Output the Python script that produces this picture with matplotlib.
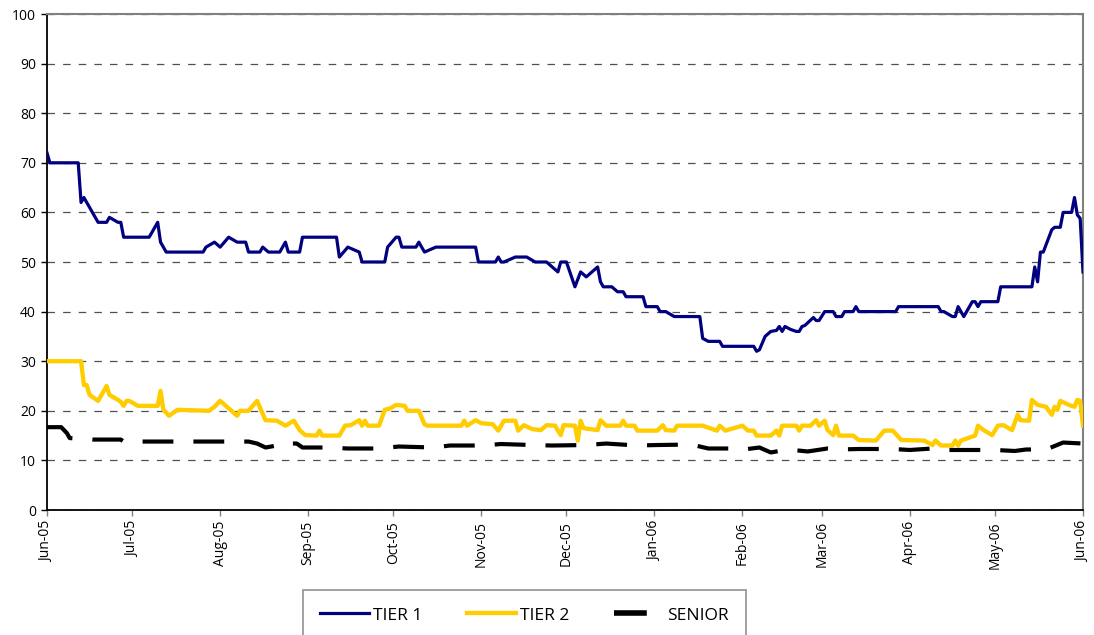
import numpy as np
import matplotlib
matplotlib.use('Agg')
from matplotlib import pyplot as plt
from matplotlib.lines import Line2D
import matplotlib.dates as mdates


plt.rcParams['font.family'] = ['Open Sans', 'DejaVu Sans']

start_date = np.datetime64('2005-06-01')
end_date = np.datetime64('2006-06-01')

# (days since 1 Jun 2005, spread)
tier1 = [(0, 72), (1, 70), (11, 70), (12, 62), (13, 63), (18, 58), (21, 58), (22, 59),
         (25, 58), (26, 58), (27, 55), (36, 55), (39, 58), (40, 54), (42, 52), (55, 52),
         (56, 53), (59, 54), (61, 53), (64, 55), (67, 54), (70, 54), (71, 52), (75, 52),
         (76, 53), (78, 52), (82, 52), (84, 54), (85, 52), (89, 52), (90, 55), (102, 55),
         (103, 51), (106, 53), (110, 52), (111, 50), (119, 50), (120, 53), (123, 55), (124, 55),
         (125, 53), (130, 53), (131, 54), (133, 52), (137, 53), (151, 53), (152, 50), (158, 50),
         (159, 51), (160, 50), (161, 50), (165, 51), (169, 51), (172, 50), (176, 50), (180, 48),
         (181, 50), (183, 50), (186, 45), (188, 48), (190, 47), (193, 48.5), (194, 49), (195, 46),
         (196, 45), (199, 45), (201, 44), (203, 44), (204, 43), (210, 43), (211, 41), (215, 41),
         (216, 40), (218, 40), (221, 39), (230, 39), (231, 34.6), (233, 34), (237, 34), (238, 33),
         (249, 33), (250, 32), (251, 32.3), (253, 35), (255, 36), (257, 36.2), (258, 37), (259, 36),
         (260, 37), (262, 36.4), (264, 36), (265, 36), (266, 37), (267, 37.2), (270, 38.8),
         (271, 38.2), (272, 38.2), (274, 40), (277, 40), (278, 39), (280, 39), (281, 40), (284, 40),
         (285, 41), (286, 40), (299, 40), (300, 41), (314, 41), (315, 40), (316, 40), (319, 39),
         (320, 39), (321, 41), (323, 39), (326, 42), (327, 42), (328, 41), (329, 42), (335, 42),
         (336, 45), (347, 45), (348, 49), (349, 46), (350, 52), (351, 52), (354, 56.5), (355, 57),
         (357, 57), (358, 60), (361, 60), (362, 63), (363, 59.5), (364, 58.8), (365, 48)]

tier2 = [(0, 30), (12, 30), (13, 25.2), (14, 25.2), (15, 23.2), (18, 22), (21, 25), (22, 23.2),
         (25, 22.2), (26, 21.8), (27, 21), (28, 22), (29, 22), (32, 21), (39, 21), (40, 24),
         (41, 20.2), (43, 19), (46, 20.2), (57, 20), (59, 20.8), (61, 22), (63, 21), (65, 20),
         (67, 19), (68, 20), (71, 20), (74, 22), (77, 18.1), (81, 18), (84, 17), (87, 18),
         (89, 16.1), (91, 15.1), (95, 15), (96, 16), (97, 15), (103, 15), (105, 17), (107, 17.1),
         (110, 18.1), (111, 17), (112, 18), (113, 17), (117, 17), (119, 20.2), (121, 20.5),
         (123, 21.2), (126, 21), (127, 20), (131, 20), (133, 17.3), (134, 17), (146, 17),
         (147, 18), (148, 17), (151, 18.1), (153, 17.5), (157, 17.3), (159, 16), (161, 18),
         (165, 18), (166, 16), (168, 17.1), (171, 16.3), (174, 16.1), (176, 17.1), (179, 17),
         (181, 15.1), (182, 17.1), (186, 17), (187, 14), (188, 18), (189, 16.5), (194, 16.1),
         (195, 18.1), (197, 17), (202, 17), (203, 18), (204, 17), (207, 17), (208, 16), (215, 16),
         (217, 17.1), (218, 16.1), (221, 16), (222, 17), (231, 17), (236, 16), (237, 17),
         (239, 16), (245, 17), (247, 16), (249, 16), (250, 15), (255, 15), (257, 16), (258, 15),
         (259, 17), (264, 17), (265, 16), (266, 17), (269, 17), (271, 18.1), (272, 17), (274, 18),
         (275, 16.1), (277, 15.1), (278, 17), (279, 15), (284, 15), (286, 14.1), (292, 14),
         (295, 16), (298, 16), (301, 14.1), (309, 14), (312, 13.1), (313, 14), (315, 13),
         (319, 13), (320, 14), (321, 13), (322, 14), (327, 15), (328, 17), (330, 16.1),
         (333, 15.1), (335, 17), (337, 17.1), (340, 16.1), (342, 19.2), (343, 18.1), (346, 18),
         (347, 22.2), (349, 21.2), (352, 20.8), (354, 19.2), (355, 20.8), (356, 20.2), (357, 22),
         (360, 21.2), (362, 20.8), (363, 22.2), (364, 22), (365, 17)]

senior = [(0, 16.7), (5, 16.7), (7, 15.5), (8, 14.5), (16, 14.2), (26, 14.2), (27, 13.8),
          (71, 13.8), (74, 13.4), (77, 12.6), (80, 12.9), (81, 13.4), (88, 13.4), (90, 12.6),
          (99, 12.6), (106, 12.4), (117, 12.4), (124, 12.8), (136, 12.6), (142, 13), (153, 13),
          (160, 13.3), (171, 13.1), (178, 13), (190, 13.1), (197, 13.4), (208, 13), (215, 13.1),
          (227, 13.2), (233, 12.4), (241, 12.4), (244, 12.1), (251, 12.6), (255, 11.6), (261, 12.2),
          (268, 11.8), (275, 12.4), (279, 12.2), (286, 12.3), (298, 12.3), (304, 12.1),
          (312, 12.4), (316, 12.1), (323, 12.1), (334, 12.1), (341, 11.9), (345, 12.2),
          (352, 12.2), (358, 13.6), (365, 13.4)]

series_labels = ['TIER 1', 'TIER 2', 'SENIOR']


def to_dates(points):
    days = np.array([p[0] for p in points])
    vals = np.array([p[1] for p in points])
    return start_date + days.astype('timedelta64[D]'), vals


fig = plt.figure(figsize=(10.94, 6.35), dpi=100)
ax = fig.add_axes([47 / 1094, 1 - 510 / 635, (1083 - 47) / 1094, (510 - 14) / 635])

x1, y1 = to_dates(tier1)
x2, y2 = to_dates(tier2)
x3, y3 = to_dates(senior)

ax.plot(x1, y1, color='#000080', lw=2.3, zorder=4)
ax.plot(x2, y2, color='#FFCC00', lw=3.1, zorder=3)
ax.plot(x3, y3, color='black', lw=3.0, ls=(0, (7.4, 4.8)), zorder=3)

ax.set_ylim(0, 100)
ax.set_yticks(np.arange(0, 101, 10))
ax.set_xlim(start_date, end_date)
ax.xaxis.set_major_locator(mdates.MonthLocator())
ax.xaxis.set_major_formatter(mdates.DateFormatter('%b-%y'))
plt.setp(ax.get_xticklabels(), rotation=90, ha='center', va='top')

ax.yaxis.grid(True, color='#505050', lw=0.9, ls=(0, (6, 6.5)))
ax.set_axisbelow(True)

ax.tick_params(axis='both', labelsize=10, length=4, width=1, direction='out',
               colors='black', pad=4)
ax.tick_params(axis='x', colors='#808080', labelcolor='black')

for side in ['top', 'right']:
    ax.spines[side].set_color('#808080')
    ax.spines[side].set_linewidth(1.5)
for side in ['left', 'bottom']:
    ax.spines[side].set_color('black')
    ax.spines[side].set_linewidth(1.3)

# legend handles: senior shows a single short thick dash
handles = [Line2D([], [], color='#000080', lw=2.3),
           Line2D([], [], color='#FFCC00', lw=3.1),
           Line2D([], [], color='black', lw=4.0, ls=(0, (5.9, 30)))]
leg = fig.legend(handles, series_labels, loc='upper left',
                 bbox_to_anchor=(303 / 1094, 1 - 590 / 635), ncol=3,
                 fontsize=12.5, frameon=True, fancybox=False, edgecolor='#808080',
                 handlelength=2.82, handletextpad=0.2, columnspacing=2.6,
                 borderpad=1.0, borderaxespad=0)
leg.get_frame().set_linewidth(1.3)

fig.savefig('out.png', dpi=100)
